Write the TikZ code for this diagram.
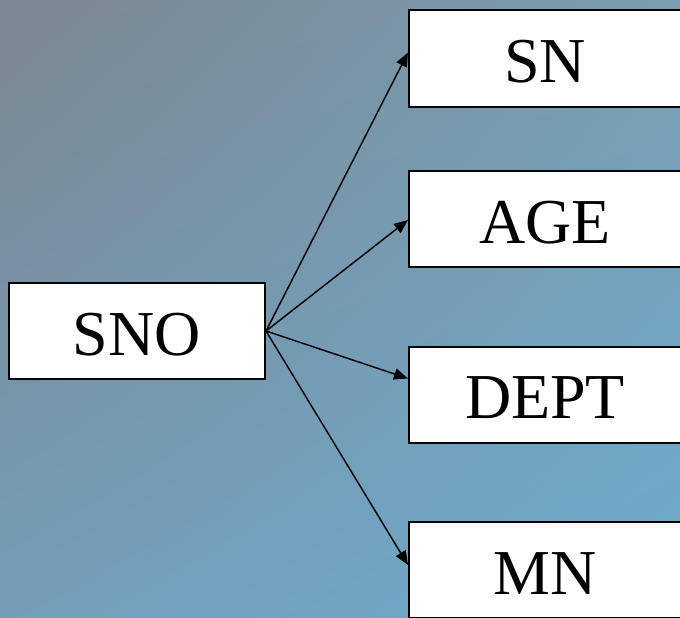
\documentclass[tikz,border=0pt]{standalone}
\usepackage{fontspec}
\setmainfont{Liberation Serif}
\usepackage{tikz}
\usetikzlibrary{arrows.meta,positioning,shadings}

\definecolor{bgtl}{RGB}{123,134,144}
\definecolor{bgtr}{RGB}{121,158,178}
\definecolor{bgbl}{RGB}{116,158,184}
\definecolor{bgbr}{RGB}{110,170,206}

\begin{document}
\begin{tikzpicture}[
    x=0.75pt,
    y=-0.75pt,
    >={Triangle[length=10.5pt,width=8.5pt]},
    field/.style={draw=black, line width=1.5pt, fill=white, inner sep=0pt,
      minimum height=72pt, text height=36pt, text depth=0pt,
      font=\fontsize{48}{56}\selectfont},
    keyfield/.style={field, minimum width=192pt},
    depfield/.style={field, minimum width=204pt},
    fd/.style={->, line width=1.1pt},
  ]

  % === Frame and background ===
  \useasboundingbox (0,0) rectangle (680,617);
  \clip (0,0) rectangle (680,617);
  \shade[upper left=bgtl, upper right=bgtr, lower left=bgbl, lower right=bgbr]
    (0,0) rectangle (680,617);

  % === Fields ===
  \node[keyfield] (sno)  at (137,331)   {SNO};
  \node[depfield] (sn)   at (545,58.5)  {SN};
  \node[depfield] (age)  at (545,219)   {AGE};
  \node[depfield] (dept) at (545,394.5) {DEPT};
  \node[depfield] (mn)   at (545,570)   {MN};

  % === Dependencies ===
  \draw[fd] (sno.east) -- ([yshift=4.5pt]sn.west);
  \draw[fd] (sno.east) -- ([yshift=-0.75pt]age.west);
  \draw[fd] (sno.east) -- ([yshift=12pt]dept.west);
  \draw[fd] (sno.east) -- ([yshift=3.75pt]mn.west);

\end{tikzpicture}
\end{document}
